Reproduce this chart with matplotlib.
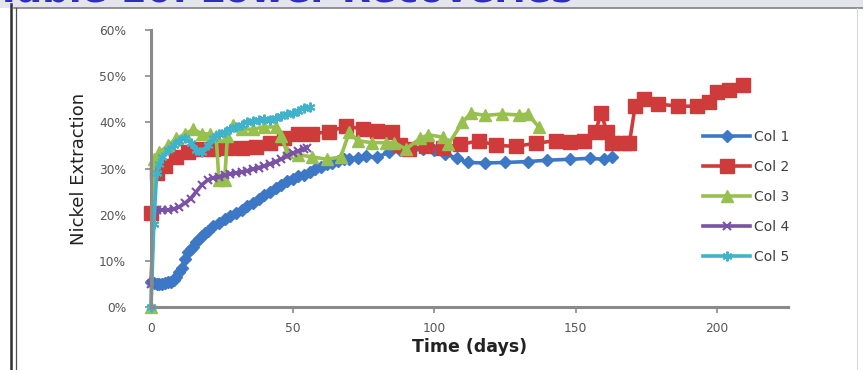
import matplotlib
matplotlib.use('Agg')
import matplotlib.pyplot as plt
from matplotlib.lines import Line2D
from matplotlib.patches import Rectangle
from matplotlib.ticker import PercentFormatter

# (days, nickel extraction fraction)
col1_days = [0, 1, 2, 3, 4, 5, 6, 7, 8, 9, 10, 11, 12, 13, 14, 15, 16, 17, 18, 19,
             20, 22, 24, 26, 28, 30, 32, 34, 36, 38, 40, 42, 44, 46, 48, 50, 52, 54,
             56, 58, 60, 62, 64, 66, 68, 70, 73, 76, 80, 84, 88, 92, 96, 100, 104,
             108, 112, 118, 125, 133, 140, 148, 155, 160, 163]
col1_vals = [5.5, 5.2, 5.0, 5.0, 5.0, 5.2, 5.5, 5.5, 5.8, 6.5, 7.5, 8.5, 10.5, 12.0,
             12.5, 13.0, 14.0, 14.8, 15.3, 16.0, 16.5, 17.5, 18.3, 19.0, 19.8, 20.4,
             21.0, 21.8, 22.6, 23.5, 24.2, 25.0, 25.8, 26.5, 27.2, 27.8, 28.3, 28.6,
             29.2, 30.0, 30.4, 31.0, 31.2, 31.6, 32.0, 32.1, 32.3, 32.6, 32.5, 33.5,
             34.0, 34.0, 34.2, 34.0, 33.2, 32.2, 31.3, 31.2, 31.3, 31.5, 31.8, 32.0,
             32.2, 32.0, 32.4]

col2_days = [0, 2, 5, 9, 13, 17, 22, 27, 32, 37, 42, 47, 52, 57, 63, 69, 75, 80, 85,
             88, 91, 97, 103, 109, 116, 122, 129, 136, 143, 148, 153, 157, 159, 161,
             163, 167, 169, 171, 174, 179, 186, 193, 197, 200, 204, 209]
col2_vals = [20.4, 29.0, 30.5, 32.5, 33.5, 34.2, 34.3, 34.5, 34.5, 34.6, 35.5, 36.5,
             37.5, 37.5, 38.0, 39.2, 38.5, 38.2, 37.8, 35.0, 34.2, 34.8, 34.5, 35.2,
             36.0, 35.0, 34.8, 35.5, 36.0, 35.8, 36.0, 38.0, 42.0, 38.0, 35.6, 35.5,
             35.6, 43.5, 45.0, 44.0, 43.5, 43.5, 44.5, 46.5, 47.0, 48.0]

col3_days = [0, 1, 3, 6, 9, 12, 15, 18, 21, 23, 24, 26, 27, 29, 32, 36, 40, 44, 46,
             48, 52, 57, 62, 67, 70, 73, 78, 83, 86, 90, 95, 98, 103, 105, 110, 113,
             118, 124, 130, 133, 137]
col3_vals = [0.0, 32.0, 33.5, 35.0, 36.5, 37.5, 38.5, 37.5, 37.5, 37.0, 27.5, 27.5,
             37.0, 39.5, 38.5, 38.5, 39.0, 39.0, 37.0, 33.5, 33.0, 32.5, 32.0, 32.5,
             37.8, 36.0, 35.6, 35.6, 35.6, 34.2, 36.5, 37.3, 36.8, 35.2, 40.0, 42.0,
             41.5, 41.8, 41.6, 41.8, 39.0]

col4_days = [0, 1, 2, 4, 6, 8, 10, 12, 14, 16, 18, 20, 22, 24, 26, 28, 30, 32, 34,
             36, 38, 40, 42, 44, 46, 48, 50, 52, 54, 55]
col4_vals = [5.0, 20.5, 21.0, 21.0, 21.0, 21.2, 21.7, 22.5, 23.5, 25.0, 26.5, 27.5,
             28.0, 28.2, 28.5, 28.8, 29.0, 29.2, 29.5, 29.8, 30.2, 30.5, 31.0, 31.5,
             32.0, 32.7, 33.3, 33.8, 34.3, 34.5]

col5_days = [0, 1, 2, 3, 4, 6, 8, 10, 12, 14, 16, 18, 20, 22, 24, 26, 28, 30, 32, 34,
             36, 38, 40, 42, 44, 46, 48, 50, 52, 54, 56]
col5_vals = [0.0, 18.0, 29.0, 31.0, 32.5, 34.0, 35.0, 36.0, 36.5, 35.5, 34.0, 33.5,
             35.0, 36.5, 37.5, 38.0, 38.5, 39.0, 39.5, 40.0, 40.3, 40.5, 40.7, 40.5,
             41.0, 41.3, 41.7, 42.0, 42.5, 43.0, 43.3]

labels = ['Col 1', 'Col 2', 'Col 3', 'Col 4', 'Col 5']
x_ticks = [0, 50, 100, 150, 200]
y_ticks = [0, 0.1, 0.2, 0.3, 0.4, 0.5, 0.6]

W, H = 863, 370
fig = plt.figure(figsize=(W / 100, H / 100), dpi=100)
fig.patch.set_facecolor('white')

# slide frame: title strip at the top (title mostly off the picture) and borders
fig.add_artist(Rectangle((0, 1 - 8 / H), 1, 8 / H, transform=fig.transFigure,
                         facecolor='#e4e4ec', edgecolor='none'))
fig.text(-0.005, 1 - 2 / H, 'Table 10: Lower Recoveries', color='#2e2eb8',
         fontsize=27, fontweight='bold', va='baseline', ha='left')
fig.add_artist(Line2D([14 / W, 1], [1 - 8 / H] * 2, transform=fig.transFigure,
                      color='#808080', lw=1.2))
fig.add_artist(Line2D([10.5 / W] * 2, [0, 1 - 4 / H], transform=fig.transFigure,
                      color='#303030', lw=1.8))
fig.add_artist(Line2D([15.5 / W] * 2, [0, 1 - 8 / H], transform=fig.transFigure,
                      color='#505050', lw=0.9))
fig.add_artist(Line2D([857 / W] * 2, [0, 1 - 8 / H], transform=fig.transFigure,
                      color='#d8d8d8', lw=0.8))

ax = fig.add_axes([151 / W, 63 / H, 637 / W, 277 / H])

styles = [
    dict(color='#3d78c6', marker='D', ms=6.5),
    dict(color='#cf3b3b', marker='s', ms=10),
    dict(color='#98c04e', marker='^', ms=8.5),
    dict(color='#7a52a6', marker='x', ms=6, mew=1.5),
    dict(color='#3fb3cc', marker=(6, 2, 0), ms=7, mew=1.5),
]
series = [(col1_days, col1_vals), (col2_days, col2_vals), (col3_days, col3_vals),
          (col4_days, col4_vals), (col5_days, col5_vals)]

for (d, v), lab, st in zip(series, labels, styles):
    ax.plot(d, [p / 100 for p in v], lw=2.6, label=lab, clip_on=False,
            markeredgecolor=st['color'], **st)

ax.set_xlim(0, 225)
ax.set_ylim(0, 0.6)
ax.set_xticks(x_ticks)
ax.set_yticks(y_ticks)
ax.yaxis.set_major_formatter(PercentFormatter(1.0, decimals=0))

for s in ['top', 'right']:
    ax.spines[s].set_visible(False)
for s in ['left', 'bottom']:
    ax.spines[s].set_color('#8a8a8a')
    ax.spines[s].set_linewidth(2.2)
ax.tick_params(axis='both', colors='#8a8a8a', labelcolor='#555555', labelsize=8.8,
               length=4, width=1.2, direction='out')
ax.tick_params(axis='x', pad=7)
ax.tick_params(axis='y', pad=14)

ax.set_xlabel('Time (days)', fontsize=12.5, fontweight='bold', color='#222222',
              labelpad=2)
ax.set_ylabel('Nickel Extraction', fontsize=13, color='#222222', labelpad=8,
              family=['Liberation Sans Narrow', 'DejaVu Sans'])

fig.legend(loc='upper left', bbox_to_anchor=(703 / W, 1 - 130 / H), frameon=False,
           fontsize=10, handlelength=3.4, handletextpad=0.3, labelspacing=1.15,
           borderpad=0, borderaxespad=0, labelcolor='#404040')

fig.savefig('out.png', dpi=100)
